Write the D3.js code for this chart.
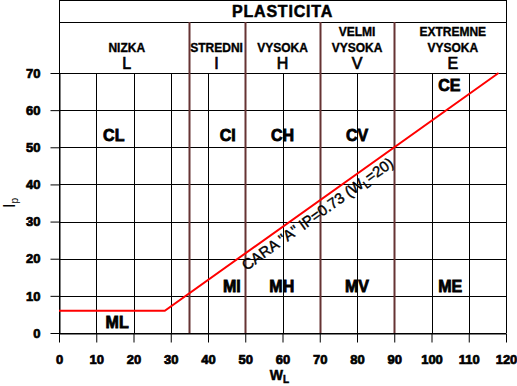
<!DOCTYPE html>
<html>
<head>
<meta charset="utf-8">
<script src="https://cdn.jsdelivr.net/npm/d3@7"></script>
<style>
  body { margin: 0; background: #fff; }
  svg { display: block; font-family: "Liberation Sans", Arial, sans-serif; }
</style>
</head>
<body>
<div id="chart"></div>
<script>
// axis ticks
const xTicks = [0, 10, 20, 30, 40, 50, 60, 70, 80, 90, 100, 110, 120];
const yTicks = [0, 10, 20, 30, 40, 50, 60, 70];

// plasticity zones (header)
const zoneBounds = [35, 50, 70, 90];
const zoneNames = [["NIZKA"], ["STREDNI"], ["VYSOKA"], ["VELMI", "VYSOKA"], ["EXTREMNE", "VYSOKA"]];
const zoneCodes = ["L", "I", "H", "V", "E"];
const zoneMid = [18.2, 42.3, 60, 80, 105.7];

// A-line
const aLineW = [0, 28.4, 118];
const aLineIp = [6, 6, 70];

// soil group labels
const soilCodes = ["CL", "CI", "CH", "CV", "CE", "ML", "MI", "MH", "MV", "ME"];
const soilW = [14.7, 45.3, 60, 80, 104.8, 15.6, 46.4, 59.8, 80, 105];
const soilIp = [51.6, 51.6, 51.6, 51.6, 65.1, 1.4, 11, 11, 11, 11];

const width = 517, height = 386;
const mLeft = 59, mRight = 506, mTop = 73, mBottom = 333;
const headTop = 0.5, headMid = 22;
const brown = "#663333";

const svg = d3.select("#chart").append("svg")
    .attr("width", width)
    .attr("height", height);

const x = d3.scaleLinear().domain([0, 120]).range([mLeft, mRight]);
const y = d3.scaleLinear().domain([0, 70]).range([mBottom, mTop]);

// grid
svg.append("g").selectAll("line")
    .data(yTicks)
    .join("line")
    .attr("x1", mLeft).attr("x2", mRight)
    .attr("y1", d => Math.round(y(d)) + 0.5).attr("y2", d => Math.round(y(d)) + 0.5)
    .attr("stroke", "#000");

svg.append("g").selectAll("line")
    .data(xTicks)
    .join("line")
    .attr("x1", d => Math.round(x(d)) + 0.5).attr("x2", d => Math.round(x(d)) + 0.5)
    .attr("y1", mTop).attr("y2", mBottom)
    .attr("stroke", "#000");

// axes
const xAxis = svg.append("g")
    .attr("transform", `translate(0,${Math.round(mBottom) + 0.5})`)
    .call(d3.axisBottom(x).tickValues(xTicks).tickSize(9).tickSizeOuter(0).tickPadding(12));

const yAxis = svg.append("g")
    .attr("transform", `translate(${Math.round(mLeft) + 0.5},0)`)
    .call(d3.axisLeft(y).tickValues(yTicks).tickSize(9).tickSizeOuter(0).tickPadding(10));

[xAxis, yAxis].forEach(a => {
    a.select(".domain").attr("stroke", "#000");
    a.selectAll(".tick line").attr("stroke", "#000");
    a.selectAll(".tick text")
        .attr("fill", "#000")
        .attr("stroke", "#000")
        .attr("stroke-width", 0.7)
        .style("font-size", "13px")
        .style("font-weight", "bold")
        .style("font-family", "'Liberation Sans', Arial, sans-serif");
});

// header box
const hb = svg.append("g").attr("fill", "none").attr("stroke", "#000");
hb.append("line").attr("x1", mLeft + 0.5).attr("x2", mRight + 0.5).attr("y1", headTop).attr("y2", headTop);
hb.append("line").attr("x1", mLeft + 0.5).attr("x2", mRight + 0.5).attr("y1", headMid + 0.5).attr("y2", headMid + 0.5);
hb.append("line").attr("x1", mLeft + 0.5).attr("x2", mLeft + 0.5).attr("y1", 0).attr("y2", mBottom);
hb.append("line").attr("x1", mRight + 0.5).attr("x2", mRight + 0.5).attr("y1", 0).attr("y2", mBottom);

svg.append("text")
    .attr("x", (mLeft + mRight) / 2).attr("y", 17)
    .attr("text-anchor", "middle")
    .attr("font-size", 16).attr("font-weight", "bold")
    .attr("letter-spacing", 0.8)
    .attr("stroke", "#000").attr("stroke-width", 0.5)
    .text("PLASTICITA");

// zone dividers
svg.append("g").selectAll("line")
    .data(zoneBounds)
    .join("line")
    .attr("x1", d => Math.round(x(d)) + 0.5).attr("x2", d => Math.round(x(d)) + 0.5)
    .attr("y1", headMid).attr("y2", mBottom)
    .attr("stroke", brown).attr("stroke-width", 2);

// zone names
const zn = svg.append("g").attr("text-anchor", "middle");
zoneNames.forEach((lines, i) => {
    lines.forEach((t, j) => {
        zn.append("text")
            .attr("x", x(zoneMid[i]))
            .attr("y", 52 - (lines.length - 1 - j) * 16)
            .attr("font-size", 12).attr("font-weight", "bold")
            .attr("stroke", "#000").attr("stroke-width", 0.35)
            .text(t);
    });
    zn.append("text")
        .attr("x", x(zoneMid[i]))
        .attr("y", 69)
        .attr("font-size", 16)
        .attr("stroke", "#000").attr("stroke-width", 0.7)
        .text(zoneCodes[i]);
});

// A-line
const aLine = d3.line().x(d => x(d[0])).y(d => y(d[1]));
svg.append("path")
    .datum(d3.zip(aLineW, aLineIp))
    .attr("d", aLine)
    .attr("fill", "none")
    .attr("stroke", "#ff0000")
    .attr("stroke-width", 2);

// A-line label
const p0 = [x(aLineW[1]), y(aLineIp[1])], p1 = [x(aLineW[2]), y(aLineIp[2])];
const ang = Math.atan2(p1[1] - p0[1], p1[0] - p0[0]) * 180 / Math.PI;
const lw = 48;
const lIp = aLineIp[1] + (lw - aLineW[1]) * (aLineIp[2] - aLineIp[1]) / (aLineW[2] - aLineW[1]);
const lab = svg.append("text")
    .attr("transform", `translate(${x(lw)},${y(lIp)}) rotate(${ang})`)
    .attr("dy", 15)
    .attr("font-size", 15)
    .attr("fill", "#000")
    .attr("stroke", "#000").attr("stroke-width", 0.4);
lab.append("tspan").text('CARA "A" IP=0.73 (W');
lab.append("tspan").attr("font-size", 11).attr("dy", 3).text("L");
lab.append("tspan").attr("dy", -3).text("=20)");

// soil groups
svg.append("g").selectAll("text")
    .data(soilCodes)
    .join("text")
    .attr("x", (d, i) => x(soilW[i]))
    .attr("y", (d, i) => y(soilIp[i]))
    .attr("text-anchor", "middle")
    .attr("font-size", 16).attr("font-weight", "bold")
    .attr("stroke", "#000").attr("stroke-width", 0.8)
    .text(d => d);

// axis titles
const xt = svg.append("text")
    .attr("x", x(60) - 3).attr("y", 380)
    .attr("text-anchor", "middle")
    .attr("font-size", 14).attr("font-weight", "bold")
    .attr("stroke", "#000").attr("stroke-width", 0.5);
xt.append("tspan").text("W");
xt.append("tspan").attr("font-size", 10).attr("dy", 3).text("L");

const yt = svg.append("text")
    .attr("transform", `translate(15,${y(35)}) rotate(-90)`)
    .attr("text-anchor", "middle")
    .attr("font-size", 16);
yt.append("tspan").text("I");
yt.append("tspan").attr("font-size", 10).attr("dy", 3).text("p");
</script>
</body>
</html>
